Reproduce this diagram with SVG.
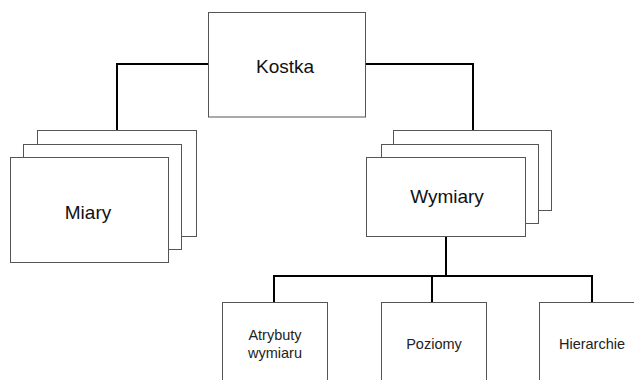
<svg xmlns="http://www.w3.org/2000/svg" width="634" height="380" viewBox="0 0 634 380">
<style>
.box{fill:#fff;stroke:#555;stroke-width:1}
.conn{fill:none;stroke:#000;stroke-width:2}
.big{font-family:"Liberation Sans",Arial,sans-serif;font-size:19px;fill:#111;text-anchor:middle}
.small{font-family:"Liberation Sans",Arial,sans-serif;font-size:14.5px;fill:#222;text-anchor:middle}
</style>
<rect width="634" height="380" fill="#fff"/>
<g id="connectors">
<path class="conn" d="M208.5,64 H117 V130"/>
<path class="conn" d="M366,64 H473 V130"/>
<path class="conn" d="M446,236 V276"/>
<path class="conn" d="M274,302 V276 H592 V302"/>
<path class="conn" d="M432,276 V302"/>
</g>
<g id="kostka">
<rect class="box" x="208.5" y="12.5" width="157" height="104.5"/>
<text class="big" x="285" y="73">Kostka</text>
</g>
<g id="miary">
<rect class="box" x="37.5" y="130.5" width="159" height="106"/>
<rect class="box" x="23.5" y="144.5" width="158" height="105"/>
<rect class="box" x="10.5" y="157.5" width="158" height="105"/>
<text class="big" x="88" y="219">Miary</text>
</g>
<g id="wymiary">
<rect class="box" x="393.5" y="130.5" width="158" height="80"/>
<rect class="box" x="381.5" y="144.5" width="157" height="79"/>
<rect class="box" x="366.5" y="157.5" width="159" height="79"/>
<text class="big" x="447" y="203">Wymiary</text>
</g>
<g id="atrybuty">
<rect class="box" x="222.5" y="302.5" width="105" height="90"/>
<text class="small" x="275" y="340">Atrybuty</text>
<text class="small" x="275" y="358">wymiaru</text>
</g>
<g id="poziomy">
<rect class="box" x="381.5" y="302.5" width="105" height="90"/>
<text class="small" x="434" y="349">Poziomy</text>
</g>
<g id="hierarchie">
<rect class="box" x="539.5" y="302.5" width="105" height="90"/>
<text class="small" x="592" y="349">Hierarchie</text>
</g>
</svg>
